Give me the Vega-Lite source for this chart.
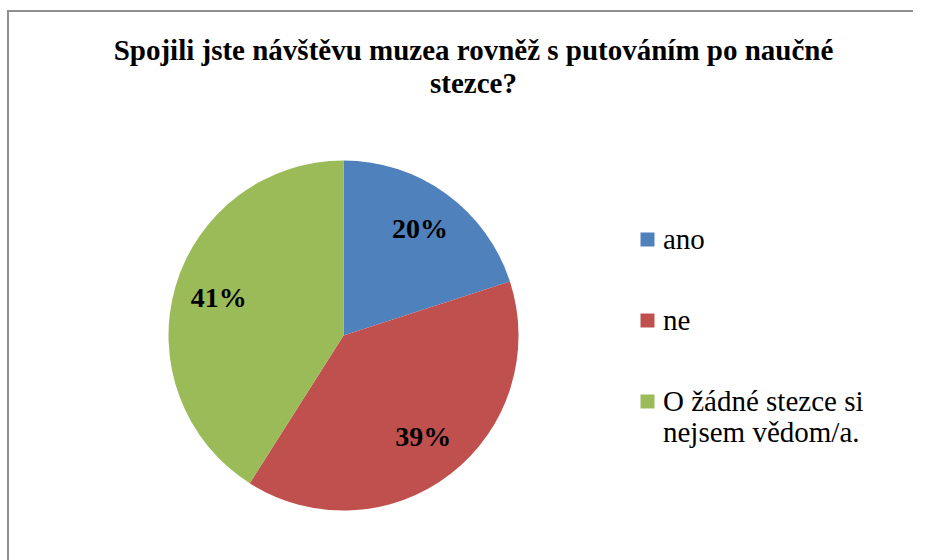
{
  "$schema": "https://vega.github.io/schema/vega-lite/v6.json",
  "autosize": {"type": "none"},
  "padding": {"left": 8, "top": 11, "right": 251, "bottom": -100},
  "width": 671,
  "height": 649,
  "background": "white",
  "view": {"stroke": "#8f8f8f", "strokeWidth": 2, "strokeDash": [671, 1320, 649]},
  "title": {
    "text": ["Spojili jste návštěvu muzea rovněž s putováním po naučné", "stezce?"],
    "font": "Liberation Serif",
    "fontSize": 29,
    "fontWeight": "bold",
    "color": "black",
    "lineHeight": 33,
    "anchor": "middle",
    "baseline": "alphabetic",
    "offset": 0,
    "dx": 130,
    "dy": 112
  },
  "data": {
    "values": [
      {"odpoved": "ano", "podil": 0.20, "poradi": 1},
      {"odpoved": "ne", "podil": 0.39, "poradi": 2},
      {"odpoved": "O žádné stezce si nejsem vědom/a.", "podil": 0.41, "poradi": 3}
    ]
  },
  "encoding": {
    "theta": {"field": "podil", "type": "quantitative", "stack": true},
    "order": {"field": "poradi", "type": "quantitative"}
  },
  "layer": [
    {
      "mark": {"type": "arc", "outerRadius": 175},
      "encoding": {
        "color": {
          "field": "odpoved",
          "type": "nominal",
          "scale": {
            "domain": ["ano", "ne", "O žádné stezce si nejsem vědom/a."],
            "range": ["#4F81BD", "#C0504D", "#9BBB59"]
          },
          "legend": {
            "title": null,
            "orient": "none",
            "legendX": 411,
            "legendY": 0,
            "padding": 214,
            "symbolType": "square",
            "symbolSize": 196,
            "symbolStrokeWidth": 0,
            "symbolOpacity": 1,
            "symbolOffset": 0,
            "labelOffset": 1,
            "labelFont": "Liberation Serif",
            "labelFontSize": 29,
            "labelColor": "black",
            "labelLimit": 0,
            "labelLineHeight": 35,
            "labelBaseline": "middle",
            "rowPadding": 51,
            "labelExpr": "datum.label == 'O žádné stezce si nejsem vědom/a.' ? ['O žádné stezce si', 'nejsem vědom/a.'] : datum.label",
            "encode": {
              "legend": {
                "update": {
                  "stroke": {"value": "#8f8f8f"},
                  "strokeWidth": {"value": 2},
                  "strokeDash": {"signal": "[494, 10000]"}
                }
              }
            }
          }
        }
      }
    },
    {
      "mark": {"type": "text", "radius": 130, "font": "Liberation Serif", "fontSize": 28, "fontWeight": "bold", "color": "black"},
      "encoding": {
        "text": {"field": "podil", "type": "quantitative", "format": ".0%"}
      }
    }
  ],
  "config": {
    "view": {"stroke": "#8f8f8f", "strokeWidth": 2, "strokeDash": [671, 1320, 649]}
  }
}
